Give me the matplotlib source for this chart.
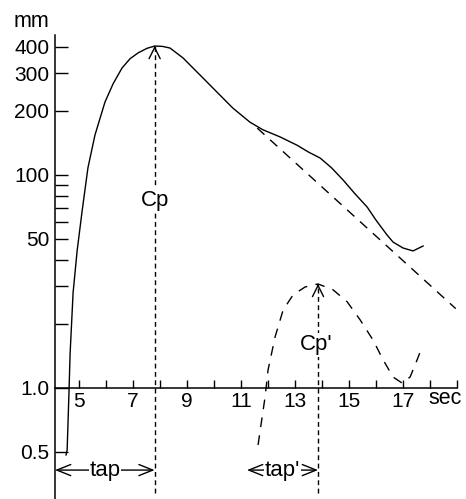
import matplotlib.pyplot as plt
from matplotlib.ticker import NullLocator

plt.rcParams['font.family'] = ['Liberation Sans', 'DejaVu Sans']

t_curva = [4.52, 4.56, 4.63, 4.67, 4.78, 4.93, 5.11, 5.33, 5.59, 5.96, 6.26, 6.59,
           6.89, 7.19, 7.52, 7.81, 8.1, 8.37, 8.85, 9.48, 10.11, 10.70, 11.33, 11.81,
           12.44, 13.07, 13.5, 13.93, 14.35, 14.78, 15.2, 15.67, 16.0, 16.41, 16.63,
           17.00, 17.37, 17.74]
c_curva = [4.82, 5.09, 9.7, 14.5, 27.9, 44, 67, 108, 154, 220, 268, 318,
           352, 375, 394, 404, 402, 395, 355, 295, 245, 206, 177, 163,
           151, 138, 128, 120, 108, 94.6, 82, 70.6, 61.2, 52.1, 48.3,
           45.3, 43.9, 46.3]

# extrapolación exponencial da caída
t_extrap = [11.6, 18.95]
c_extrap = [166, 23.5]

# curva de recirculación (Cp')
t_recirc = [11.63, 11.89, 12.0, 12.26, 12.56, 12.93, 13.37, 13.85, 14.41, 14.93,
            15.41, 15.89, 16.26, 16.63, 16.96, 17.26, 17.52, 17.70]
c_recirc = [5.37, 9.04, 12.1, 17.3, 23.2, 27.3, 29.7, 30.7, 28.8, 25.3,
            20.8, 16.7, 13.5, 11.2, 10.5, 11.2, 13.5, 15.5]

cp_t, cp_val = 7.8, 404
cp2_t, cp2_val = 13.85, 30.7
tap_ini, tap2_ini = 4.11, 11.22

y_ticks = [5, 10, 20, 30, 40, 50, 60, 70, 80, 90, 100, 200, 300, 400]
y_labels = ['0.5', '1.0', '', '', '', '50', '', '', '', '', '100', '200', '300', '400']
x_ticks = list(range(5, 20))
x_labels = [str(t) if t % 2 and t < 19 else '' for t in x_ticks]

# --- figura ---
fig = plt.figure(figsize=(4.66, 4.99), dpi=100)
ax = fig.add_axes([55 / 466, 0, 411 / 466, 464 / 499])
ax.set_yscale('log')
ax.set_xlim(4.11, 19.33)
ax.set_ylim(2.99, 455)

ax.plot(t_curva, c_curva, color='k', lw=1.0)
ax.plot(t_extrap, c_extrap, color='k', lw=1.0, ls=(0, (7, 5.5)))
ax.plot(t_recirc, c_recirc, color='k', lw=1.0, ls=(0, (7, 6)))

# liñas verticais dos picos
y_baixo = 3.2
for tx, val in [(cp_t, cp_val), (cp2_t, cp2_val)]:
    ax.plot([tx, tx], [y_baixo, val], color='k', lw=1.0, ls=(0, (3.5, 2.5)))
    ax.annotate('', xy=(tx, val), xytext=(tx, val * 0.985),
                arrowprops=dict(arrowstyle='->,head_length=0.8,head_width=0.4',
                                lw=1.0, color='k', shrinkA=0, shrinkB=0))

caixa = dict(facecolor='white', edgecolor='none', pad=1)
ax.text(cp_t, 76, 'Cp', fontsize=16, ha='center', va='center', bbox=caixa, zorder=5)
ax.text(13.78, 15.9, "Cp'", fontsize=16, ha='center', va='center', bbox=caixa, zorder=5)

# frechas de tempo de aparición
y_tap = 4.09
for t0, t1, txt in [(tap_ini, cp_t, 'tap'), (tap2_ini, cp2_t, "tap'")]:
    ax.annotate('', xy=(t1, y_tap), xytext=(t0, y_tap),
                arrowprops=dict(arrowstyle='<->,head_length=1.0,head_width=0.4',
                                lw=1.0, color='k', shrinkA=0, shrinkB=0))
    ax.text((t0 + t1) / 2, y_tap, txt, fontsize=16, ha='center', va='center',
            bbox=dict(facecolor='white', edgecolor='none', pad=0.5), zorder=5)

# eixos
for lado in ['top', 'right']:
    ax.spines[lado].set_visible(False)
ax.spines['bottom'].set_position(('data', 10))
ax.spines['bottom'].set_bounds(4.11, 19)
ax.spines['left'].set_linewidth(1.1)
ax.spines['bottom'].set_linewidth(1.1)

ax.yaxis.set_minor_locator(NullLocator())
ax.set_yticks(y_ticks, y_labels)
ax.set_xticks(x_ticks, x_labels)
ax.tick_params(axis='y', direction='in', length=9, width=1.0, labelsize=15, pad=4)
ax.tick_params(axis='x', direction='in', length=6, width=1.0, labelsize=15, pad=3)

ax.text(18.56, 10, 'sec', fontsize=15.5, ha='center', va='top',
        transform=ax.transData)
fig.text(49 / 466, 1 - 27 / 499, 'mm', fontsize=15.5, ha='right', va='baseline')

fig.savefig('out.png', dpi=100)
